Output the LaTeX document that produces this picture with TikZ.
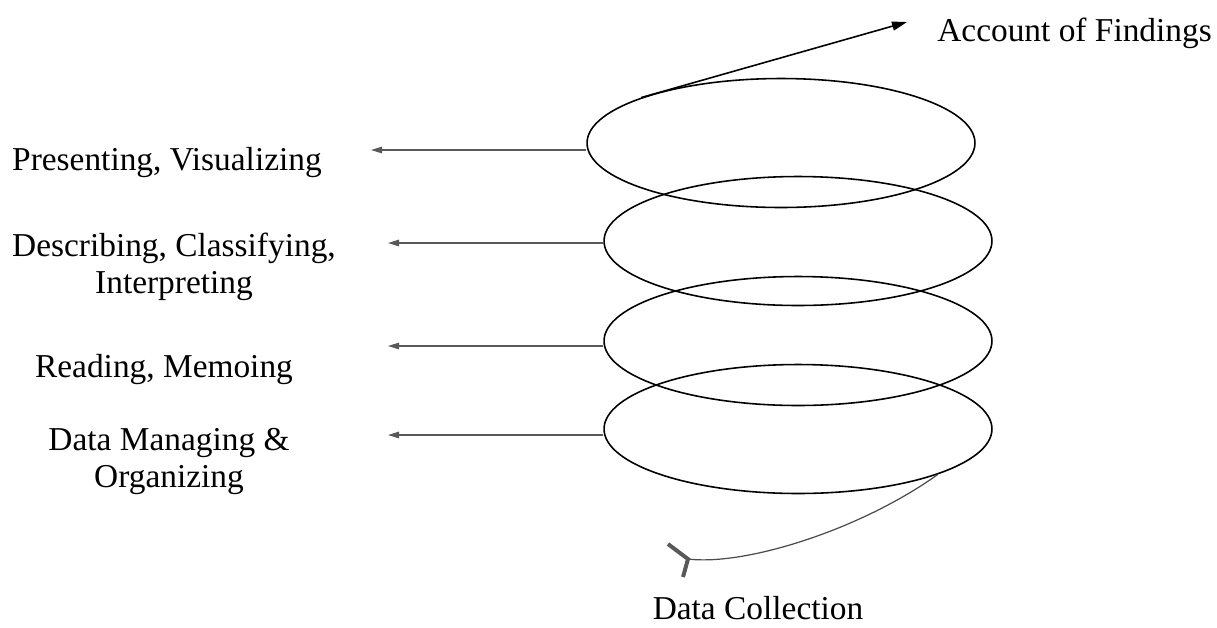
\documentclass[tikz,border=0pt]{standalone}
\usepackage{fontspec}
\setmainfont{Liberation Serif}
\usetikzlibrary{shapes.geometric,arrows.meta}

\begin{document}
\begin{tikzpicture}[x=0.02cm,y=-0.02cm,
    ring/.style={draw, ellipse, line width=0.9pt, minimum width=7.76cm, minimum height=2.58cm, inner sep=0pt},
    lbl/.style={align=center, font=\fontsize{19}{21}\selectfont, inner sep=0pt, anchor=base},
    garrow/.style={draw=black!65, line width=0.8pt, -{Triangle[length=0.22cm,width=0.13cm]}}]
        \useasboundingbox (0,0) rectangle (1217,627);
        % the loops of the spiral
        \node[ring] (e1) at (781,143) {};
        \node[ring] (e2) at (798,241) {};
        \node[ring] (e3) at (798,341) {};
        \node[ring] (e4) at (798,429) {};
        % labels on the left (base = last line)
        \node[lbl] (pres) at (167,170) {Presenting, Visualizing};
        \node[lbl] (desc) at (174,293) {Describing, Classifying,\\Interpreting};
        \node[lbl] (read) at (164,377) {Reading, Memoing};
        \node[lbl] (mana) at (169,487) {Data Managing \&\\Organizing};
        \node[lbl, anchor=base west] (acc) at (937,41) {Account of Findings};
        \node[lbl] (coll) at (758,619) {Data Collection};
        % arrow ends
        \coordinate (t0) at (907,22);
        \coordinate (t1) at (371,150);
        \coordinate (t2) at (388,243);
        \coordinate (t3) at (388,346);
        \coordinate (t4) at (388,435);
        \coordinate (dc) at (688,559);
        \draw[line width=0.9pt, -{Triangle[length=0.3cm,width=0.18cm]}] (e1.162) -- (t0);
        \draw[garrow] (e1.west |- t1) -- (t1);
        \draw[garrow] (e2.west |- t2) -- (t2);
        \draw[garrow] (e3.west |- t3) -- (t3);
        \draw[garrow] (e4.west |- t4) -- (t4);
        \draw[line width=0.7pt, black!70] (e4.-18) .. controls (860,530) and (745,566) .. (dc);
        \draw[line width=0.08cm, black!65] (668,544) -- (dc) -- (683,577);
\end{tikzpicture}
\end{document}
